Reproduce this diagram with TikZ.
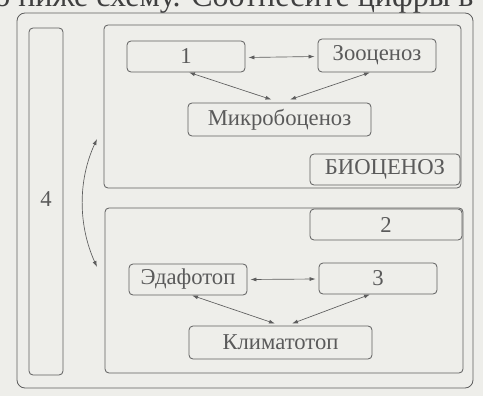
\documentclass[tikz,border=0pt]{standalone}
\usepackage{fontspec}
\setmainfont{Liberation Serif}
\usetikzlibrary{arrows.meta}
\definecolor{bg}{HTML}{EEEEEA}
\definecolor{ln}{HTML}{5E5E5E}
\definecolor{tx}{HTML}{5A5A5A}
\begin{document}
\begin{tikzpicture}[x=0.75pt,y=-0.75pt,
  frame/.style={draw=ln, line width=0.6pt, rounded corners=3pt, inner sep=0pt},
  box/.style={frame, text=tx, font=\fontsize{17}{17}\selectfont},
  link/.style={ln, line width=0.5pt, {Latex[length=4.5pt,width=3pt]}-{Latex[length=4.5pt,width=3pt]}}]
\useasboundingbox (0,0) rectangle (483,396);
\clip (0,0) rectangle (483,396);
\fill[bg] (0,0) rectangle (483,396);
\node[anchor=base west, inner sep=0pt, font=\fontsize{24}{24}\selectfont, text=black!75] (head) at (-6,7) {о ниже схему. Соотнесите цифры в};
% containers
\node[frame, rounded corners=6pt, minimum width={456*0.75pt}, minimum height={375*0.75pt}] (outer) at (245,200.5) {};
\node[box, minimum width={34*0.75pt}, minimum height={347*0.75pt}] (col) at (46,201.5) {\raisebox{3pt}{4}};
\node[frame, minimum width={357*0.75pt}, minimum height={163*0.75pt}] (bio) at (282.5,106.5) {};
\node[frame, minimum width={358*0.75pt}, minimum height={165*0.75pt}] (low) at (284,290.5) {};
% upper boxes
\node[box, minimum width={118*0.75pt}, minimum height={31*0.75pt}] (n1) at (186,56.5) {1};
\node[box, minimum width={118*0.75pt}, minimum height={33*0.75pt}] (zoo) at (377,55.5) {Зооценоз};
\node[box, minimum width={183*0.75pt}, minimum height={33*0.75pt}] (mic) at (279.5,119.5) {Микробоценоз};
\node[box, minimum width={150*0.75pt}, minimum height={31*0.75pt}] (bioc) at (385,169.5) {БИОЦЕНОЗ};
% lower boxes
\node[box, minimum width={152*0.75pt}, minimum height={31*0.75pt}] (n2) at (386,224.5) {2};
\node[box, minimum width={118*0.75pt}, minimum height={31*0.75pt}] (eda) at (188,279.5) {Эдафотоп};
\node[box, minimum width={118*0.75pt}, minimum height={31*0.75pt}] (n3) at (378,278.5) {3};
\node[box, minimum width={183*0.75pt}, minimum height={33*0.75pt}] (kli) at (280.5,342.5) {Климатотоп};
% links
\draw[link] ([shift={(3,1)}]n1.east) -- ([shift={(-3,1)}]zoo.west);
\draw[link] ([shift={(3,0)}]n1.south) -- ([shift={(-8,-3)}]mic.north);
\draw[link] ([shift={(-7,0)}]zoo.south) -- ([shift={(10.5,-3)}]mic.north);
\draw[link] ([shift={(3,0)}]eda.east) -- ([shift={(-3,0.5)}]n3.west);
\draw[link] ([shift={(4,0)}]eda.south) -- ([shift={(-5.5,-2)}]kli.north);
\draw[link] ([shift={(-8,0)}]n3.south) -- ([shift={(11.5,-2)}]kli.north);
\coordinate (ca) at (97,139);
\coordinate (cb) at (97,267);
\draw[link] (ca) .. controls (78,180) and (78,225) .. (cb);
\end{tikzpicture}
\end{document}
